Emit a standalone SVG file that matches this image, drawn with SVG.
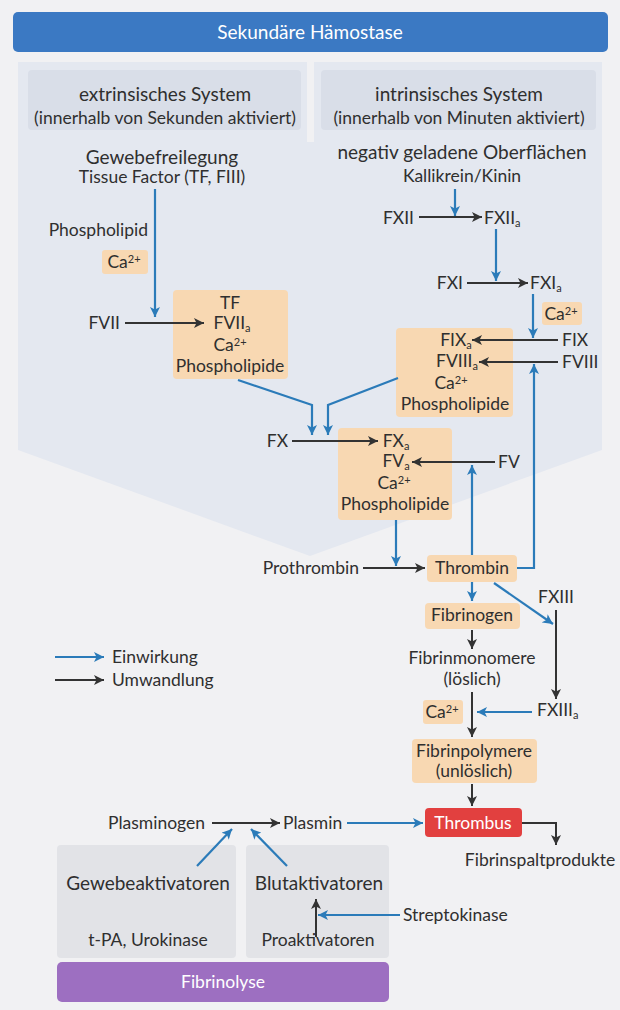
<svg xmlns="http://www.w3.org/2000/svg" width="620" height="1010" viewBox="0 0 620 1010">
<defs>
<style>
text{font-family:Lato,"Open Sans","Liberation Sans",sans-serif;fill:#2f2f2f;font-size:17.5px}
.m{text-anchor:middle}
.e{text-anchor:end}
.h{font-size:19px}
.s{font-size:17.5px}
.w{fill:#fff}
.box{fill:#f8d8b2}
.bl{stroke:#2b7bb9;stroke-width:2.2;fill:none;marker-end:url(#ab)}
.bk{stroke:#333;stroke-width:2;fill:none;marker-end:url(#ak)}
</style>
<marker id="ab" viewBox="0 0 10 10" refX="10" refY="5" markerWidth="11" markerHeight="10" markerUnits="userSpaceOnUse" orient="auto"><path d="M0,0 L10,5 L0,10 L2.5,5 z" fill="#2b7bb9"/></marker>
<marker id="ak" viewBox="0 0 10 10" refX="10" refY="5" markerWidth="11" markerHeight="10" markerUnits="userSpaceOnUse" orient="auto"><path d="M0,0 L10,5 L0,10 L2.5,5 z" fill="#333"/></marker>
</defs>
<rect width="620" height="1010" fill="#f1f1f3"/>
<g id="panel">
<path d="M18,62 H602 V450 L310,556 L18,450 Z" fill="#e4e8f0"/>
<rect x="307" y="62" width="7" height="80" fill="#f1f1f3"/>
<rect x="28" y="70" width="273" height="60" rx="4" fill="#d9dee8"/>
<rect x="321" y="70" width="275" height="60" rx="4" fill="#d9dee8"/>
</g>
<g id="fibrinolyse-panel">
<rect x="57" y="845" width="179" height="113" rx="4" fill="#e2e3e7"/>
<rect x="246" y="845" width="143" height="113" rx="4" fill="#e2e3e7"/>
</g>
<g id="title"><rect x="13" y="12" width="595" height="40" rx="5" fill="#3b79c3"/><text class="m h w" x="310" y="39">Sekundäre Hämostase</text></g>
<g id="extrinsisch"><text class="m h" x="165" y="101">extrinsisches System</text><text class="m s" x="165" y="124">(innerhalb von Sekunden aktiviert)</text></g>
<g id="intrinsisch"><text class="m h" x="459" y="101">intrinsisches System</text><text class="m s" x="459" y="124">(innerhalb von Minuten aktiviert)</text></g>
<g id="gewebe"><text class="m h" x="162" y="164">Gewebefreilegung</text><text class="m s" x="162" y="183">Tissue Factor (TF, FIII)</text></g>
<g id="phospholipid"><text class="e" x="148" y="236">Phospholipid</text></g>
<g id="ca1"><rect class="box" x="102" y="250" width="46" height="24" rx="3"/><text class="m" x="124" y="268">Ca<tspan dy="-5" font-size="11">2+</tspan></text></g>
<g id="fvii"><text class="e" x="120" y="329">FVII</text></g>
<g id="tf-komplex"><rect class="box" x="173" y="290" width="115" height="89" rx="4"/>
<text class="m" x="230" y="309">TF</text>
<text class="m" x="232" y="329">FVII<tspan dy="3" font-size="11">a</tspan></text>
<text class="m" x="230" y="351">Ca<tspan dy="-5" font-size="11">2+</tspan></text>
<text class="m" x="230" y="372">Phospholipide</text></g>
<g id="oberflaechen"><text class="m h" x="462" y="159">negativ geladene Oberflächen</text><text class="m s" x="462" y="182">Kallikrein/Kinin</text></g>
<g id="fxii"><text class="e" x="414" y="224">FXII</text></g>
<g id="fxiia"><text x="484" y="224">FXII<tspan dy="3" font-size="11">a</tspan></text></g>
<g id="fxi"><text class="e" x="463" y="289">FXI</text></g>
<g id="fxia"><text x="530" y="289">FXI<tspan dy="3" font-size="11">a</tspan></text></g>
<g id="ca2"><rect class="box" x="542" y="302" width="40" height="23" rx="3"/><text class="m" x="561" y="320">Ca<tspan dy="-5" font-size="11">2+</tspan></text></g>
<g id="fix-komplex"><rect class="box" x="396" y="328" width="117" height="89" rx="4"/>
<text class="m" x="456" y="346">FIX<tspan dy="3" font-size="11">a</tspan></text>
<text class="m" x="457" y="367">FVIII<tspan dy="3" font-size="11">a</tspan></text>
<text class="m" x="451" y="389">Ca<tspan dy="-5" font-size="11">2+</tspan></text>
<text class="m" x="455" y="410">Phospholipide</text></g>
<g id="fix"><text x="562" y="346">FIX</text></g>
<g id="fviii"><text x="562" y="368">FVIII</text></g>
<g id="fx"><text class="e" x="288" y="447">FX</text></g>
<g id="fx-komplex"><rect class="box" x="338" y="428" width="114" height="92" rx="4"/>
<text class="m" x="396" y="447">FX<tspan dy="3" font-size="11">a</tspan></text>
<text class="m" x="396" y="467">FV<tspan dy="3" font-size="11">a</tspan></text>
<text class="m" x="394" y="489">Ca<tspan dy="-5" font-size="11">2+</tspan></text>
<text class="m" x="395" y="510">Phospholipide</text></g>
<g id="fv"><text x="498" y="468">FV</text></g>
<g id="prothrombin"><text class="e" x="359" y="574">Prothrombin</text></g>
<g id="thrombin"><rect class="box" x="427" y="555" width="90" height="27" rx="4"/><text class="m" x="472" y="574">Thrombin</text></g>
<g id="fibrinogen"><rect class="box" x="425" y="603" width="95" height="26" rx="4"/><text class="m" x="472" y="621">Fibrinogen</text></g>
<g id="fxiii"><text class="m" x="556" y="603">FXIII</text></g>
<g id="fibrinmonomere"><text class="m" x="472" y="664">Fibrinmonomere</text><text class="m" x="472" y="685">(löslich)</text></g>
<g id="ca3"><rect class="box" x="423" y="700" width="40" height="24" rx="3"/><text class="m" x="442" y="718">Ca<tspan dy="-5" font-size="11">2+</tspan></text></g>
<g id="fxiiia"><text x="537" y="716">FXIII<tspan dy="3" font-size="11">a</tspan></text></g>
<g id="fibrinpolymere"><rect class="box" x="412" y="739" width="125" height="44" rx="4"/><text class="m" x="474" y="757">Fibrinpolymere</text><text class="m" x="474" y="777">(unlöslich)</text></g>
<g id="thrombus"><rect x="425" y="808" width="97" height="29" rx="4" fill="#e2403f"/><text class="m w" x="473" y="829">Thrombus</text></g>
<g id="fibrinspaltprodukte"><text class="m" x="540" y="866">Fibrinspaltprodukte</text></g>
<g id="plasminogen"><text x="108" y="829">Plasminogen</text></g>
<g id="plasmin"><text x="283" y="829">Plasmin</text></g>
<g id="gewebeaktivatoren"><text class="m h" x="148" y="890">Gewebeaktivatoren</text><text class="m" x="148" y="946">t-PA, Urokinase</text></g>
<g id="blutaktivatoren"><text class="m h" x="319" y="890">Blutaktivatoren</text></g>
<g id="proaktivatoren"><text class="m" x="318" y="946">Proaktivatoren</text></g>
<g id="streptokinase"><text x="403" y="921">Streptokinase</text></g>
<g id="fibrinolyse"><rect x="57" y="962" width="332" height="40" rx="5" fill="#9d6fc1"/><text class="m w" x="223" y="988">Fibrinolyse</text></g>
<g id="legend"><line class="bl" x1="55" y1="657" x2="104" y2="657"/><text x="112" y="663">Einwirkung</text><line class="bk" x1="55" y1="680" x2="104" y2="680"/><text x="112" y="686">Umwandlung</text></g>
<g id="connectors">
<line class="bl" x1="155" y1="189" x2="155" y2="317"/>
<line class="bk" x1="125" y1="323" x2="204" y2="323"/>
<polyline class="bl" points="238,380 312,405 312,435"/>
<polyline class="bl" points="398,378 328,405 328,435"/>
<line class="bl" x1="455" y1="189" x2="455" y2="216"/>
<line class="bk" x1="419" y1="217" x2="482" y2="217"/>
<line class="bl" x1="496" y1="229" x2="496" y2="281"/>
<line class="bk" x1="467" y1="283" x2="528" y2="283"/>
<line class="bl" x1="533" y1="294" x2="533" y2="338"/>
<line class="bk" x1="558" y1="340" x2="472" y2="340"/>
<line class="bk" x1="558" y1="362" x2="479" y2="362"/>
<polyline class="bl" points="517,568 534,568 534,364"/>
<line class="bk" x1="292" y1="441" x2="378" y2="441"/>
<line class="bk" x1="495" y1="462" x2="412" y2="462"/>
<line class="bl" x1="472" y1="555" x2="472" y2="465"/>
<line class="bl" x1="396" y1="520" x2="396" y2="566"/>
<line class="bk" x1="363" y1="568" x2="425" y2="568"/>
<line class="bl" x1="472" y1="582" x2="472" y2="601"/>
<line class="bl" x1="494" y1="583" x2="553" y2="624"/>
<line class="bk" x1="556" y1="610" x2="556" y2="699"/>
<line class="bk" x1="472" y1="630" x2="472" y2="649"/>
<line class="bk" x1="472" y1="692" x2="472" y2="737"/>
<line class="bl" x1="532" y1="712" x2="477" y2="712"/>
<line class="bk" x1="472" y1="784" x2="472" y2="806"/>
<line class="bl" x1="347" y1="823" x2="423" y2="823"/>
<polyline class="bk" points="522,823 556,823 556,845"/>
<line class="bk" x1="212" y1="823" x2="280" y2="823"/>
<line class="bl" x1="197" y1="866" x2="232" y2="829"/>
<line class="bl" x1="287" y1="866" x2="251" y2="829"/>
<line class="bk" x1="316" y1="937" x2="316" y2="899"/>
<line class="bl" x1="400" y1="915" x2="318" y2="915"/>
</g>
</svg>
